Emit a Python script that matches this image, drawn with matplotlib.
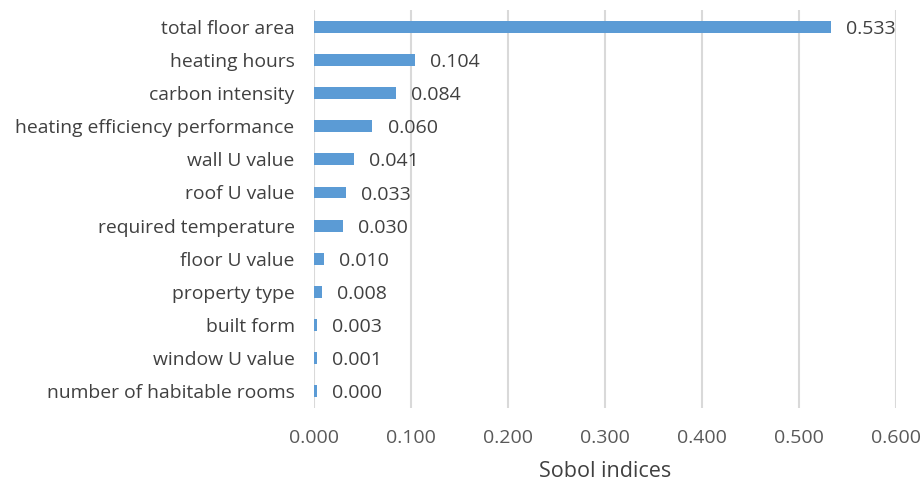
import matplotlib.pyplot as plt

# Sobol indices per input, top to bottom as in the chart
features = ['total floor area', 'heating hours', 'carbon intensity',
            'heating efficiency performance', 'wall U value', 'roof U value',
            'required temperature', 'floor U value', 'property type',
            'built form', 'window U value', 'number of habitable rooms']
sobol = [0.533, 0.104, 0.084, 0.060, 0.041, 0.033,
         0.030, 0.010, 0.008, 0.003, 0.001, 0.000]
xticks = [0.0, 0.1, 0.2, 0.3, 0.4, 0.5, 0.6]

plt.rcParams['font.family'] = ['Open Sans', 'DejaVu Sans']
text_color = '#595959'

fig = plt.figure(figsize=(9.22, 4.83), dpi=100)
ax = fig.add_axes([0.3406, 0.1553, 0.6312, 0.8237])

ypos = list(range(len(features)))
bars = ax.barh(ypos, sobol, height=0.36, color='#5B9BD5', zorder=3)
# tiny values still get a thin visible bar, as Excel draws them
for y, v in zip(ypos, sobol):
    if v < 0.004:
        ax.barh(y, 0.003, height=0.36, left=0, color='#5B9BD5', zorder=3, linewidth=0)
for y, v in zip(ypos, sobol):
    ax.annotate(f'{v:.3f}', xy=(max(v, 0.003), y), xytext=(11, -1.5),
                textcoords='offset points', ha='left', va='center',
                fontsize=14, color='#404040')

ax.set_xlim(0, 0.6)
ax.set_ylim(len(features) - 0.5, -0.5)
ax.set_yticks(ypos)
ax.set_yticklabels(features, fontsize=13.9, color='#404040')
ax.set_xticks(xticks)
ax.set_xticklabels([f'{t:.3f}' for t in xticks], fontsize=14, color=text_color)
ax.tick_params(axis='both', length=0)
ax.tick_params(axis='y', pad=14)
ax.tick_params(axis='x', pad=15)
ax.grid(axis='x', color='#d9d9d9', linewidth=1.5, zorder=0)
for s in ax.spines.values():
    s.set_visible(False)
ax.set_xlabel('Sobol indices', fontsize=15.5, color='#404040', labelpad=10)

fig.savefig('out.png', dpi=100)
